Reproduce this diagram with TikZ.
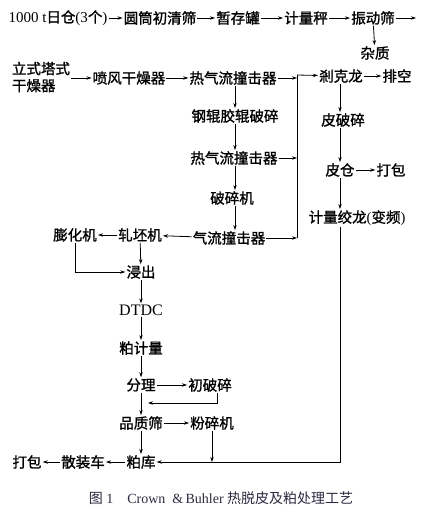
\documentclass[tikz,border=0pt]{standalone}
\usepackage{fontspec}
\setmainfont{Liberation Serif}
\newfontfamily\cjk[FakeBold=1.3]{Noto Sans CJK SC}
\newfontfamily\cjklight{Noto Sans CJK SC}
\usetikzlibrary{arrows.meta}
\definecolor{capcol}{HTML}{2A2A40}
\begin{document}
\begin{tikzpicture}[x=1pt,y=-1pt,
  lbl/.style={inner sep=1pt,font=\fontsize{14.5}{17}\selectfont\cjk},
  ar/.style={line width=0.8pt,-{Stealth[length=5pt,width=3.4pt]}},
  ln/.style={line width=0.8pt}]
\useasboundingbox (0,0) rectangle (438,513);
% row 1
\node[lbl] (a1) at (58,18) {{\rmfamily\fontsize{15}{17}\selectfont 1000 t}日仓{\rmfamily\fontsize{15}{17}\selectfont(3}个{\rmfamily\fontsize{15}{17}\selectfont)}};
\node[lbl] (a2) at (160,18) {圆筒初清筛};
\node[lbl] (a3) at (238,18) {暂存罐};
\node[lbl] (a4) at (306,18) {计量秤};
\node[lbl] (a5) at (373,18) {振动筛};
\coordinate (a6) at (416,18);
\node[lbl] (zz) at (375,53) {杂质};
\draw[ar] (a1) -- (a2);
\draw[ar] (a2) -- (a3);
\draw[ar] (a3) -- (a4);
\draw[ar] (a4) -- (a5);
\draw[ar] (a5) -- (a6);
\draw[ar] (a5) -- (zz);
% row 2
\node[lbl,align=left] (b1) at (41,77) {立式塔式\\干燥器};
\node[lbl] (b2) at (129,78) {喷风干燥器};
\node[lbl] (b3) at (233,78) {热气流撞击器};
\coordinate (j1) at (297,78);
\coordinate (j0) at (297,75);
\node[lbl] (b4) at (341,76) {剎克龙};
\node[lbl] (b5) at (397,76) {排空};
\draw[ar] (b1.east |- b2) -- (b2);
\draw[ar] (b2) -- (b3);
\draw[ar] (b3) -- (j1);
\draw[ar] (j0) -- (b4);
\draw[ar] (b4) -- (b5);
% center column
\node[lbl] (c1) at (235,116) {钢辊胶辊破碎};
\node[lbl] (c2) at (234,158) {热气流撞击器};
\node[lbl] (c3) at (232,198) {破碎机};
\node[lbl] (c4) at (229,238) {气流撞击器};
\coordinate (j2) at (297,158);
\coordinate (j3) at (297,238);
\draw[ar] (b3.south -| c1) -- (c1);
\draw[ar] (c1) -- (c1 |- c2.north);
\draw[ar] (c1 |- c2.south) -- (c1 |- c3.north);
\draw[ar] (c1 |- c3.south) -- (c1 |- c4.north);
\draw[ar] (c2) -- (j2);
\draw[ar] (c4) -- (j3);
\draw[ln] (j3) -- (j0);
% left branch
\node[lbl] (d1) at (140,235) {轧坯机};
\node[lbl] (d2) at (75,235) {膨化机};
\node[lbl] (d3) at (141,272) {浸出};
\draw[ar] (c4) -- (d1);
\draw[ar] (d1) -- (d2);
\draw[ar] (d1) -- (d3);
\draw[ar] (d2.south) -- (d2.south |- d3) -- (d3);
% lower column
\node[lbl,font=\fontsize{16}{18}\selectfont\rmfamily] (e1) at (141,310) {DTDC};
\node[lbl] (e2) at (141,348) {粕计量};
\node[lbl] (e3) at (141,385) {分理};
\node[lbl] (e4) at (210,385) {初破碎};
\node[lbl] (e5) at (141,423) {品质筛};
\node[lbl] (e6) at (212,423) {粉碎机};
\node[lbl] (e7) at (141,462) {粕库};
\node[lbl] (e8) at (83,462) {散装车};
\node[lbl] (e9) at (27,462) {打包};
\draw[ar] (d3) -- (e1);
\draw[ar] (e1) -- (e2);
\draw[ar] (e2) -- (e3);
\draw[ar] (e3) -- (e4);
\coordinate (k1) at (148,403);
\draw[ar] (e4.south -| 217,0) -- (217,403) -- (k1);
\draw[ar] (e3) -- (e5);
\draw[ar] (e5) -- (e6);
\draw[ar] (e5) -- (e7);
\coordinate (k2) at (212,462);
\draw[ar] (e6) -- (k2);
\draw[ar] (e7) -- (e8);
\draw[ar] (e8) -- (e9);
% right column
\node[lbl] (f1) at (343,120) {皮破碎};
\node[lbl] (f2) at (340,170) {皮仓};
\node[lbl] (f3) at (391,170) {打包};
\node[lbl] (f4) at (357,218) {计量绞龙{\rmfamily(}变频{\rmfamily)}};
\draw[ar] (b4.south -| 340,0) -- (f1.north -| 340,0);
\draw[ar] (f1.south -| 340,0) -- (f2.north -| 340,0);
\draw[ar] (f2) -- (f3);
\draw[ar] (f2.south -| 340,0) -- (f4.north -| 340,0);
\draw[ar] (f4.south -| 340,0) -- (340,462) -- (e7);
% caption
\node[inner sep=0pt,text=capcol,font=\fontsize{14}{16}\selectfont] (cap) at (221,498) {{\cjklight 图}\ 1\hspace{14pt}Crown\ \ \&\,Buhler {\cjklight 热脱皮及粕处理工艺}};
\end{tikzpicture}
\end{document}
